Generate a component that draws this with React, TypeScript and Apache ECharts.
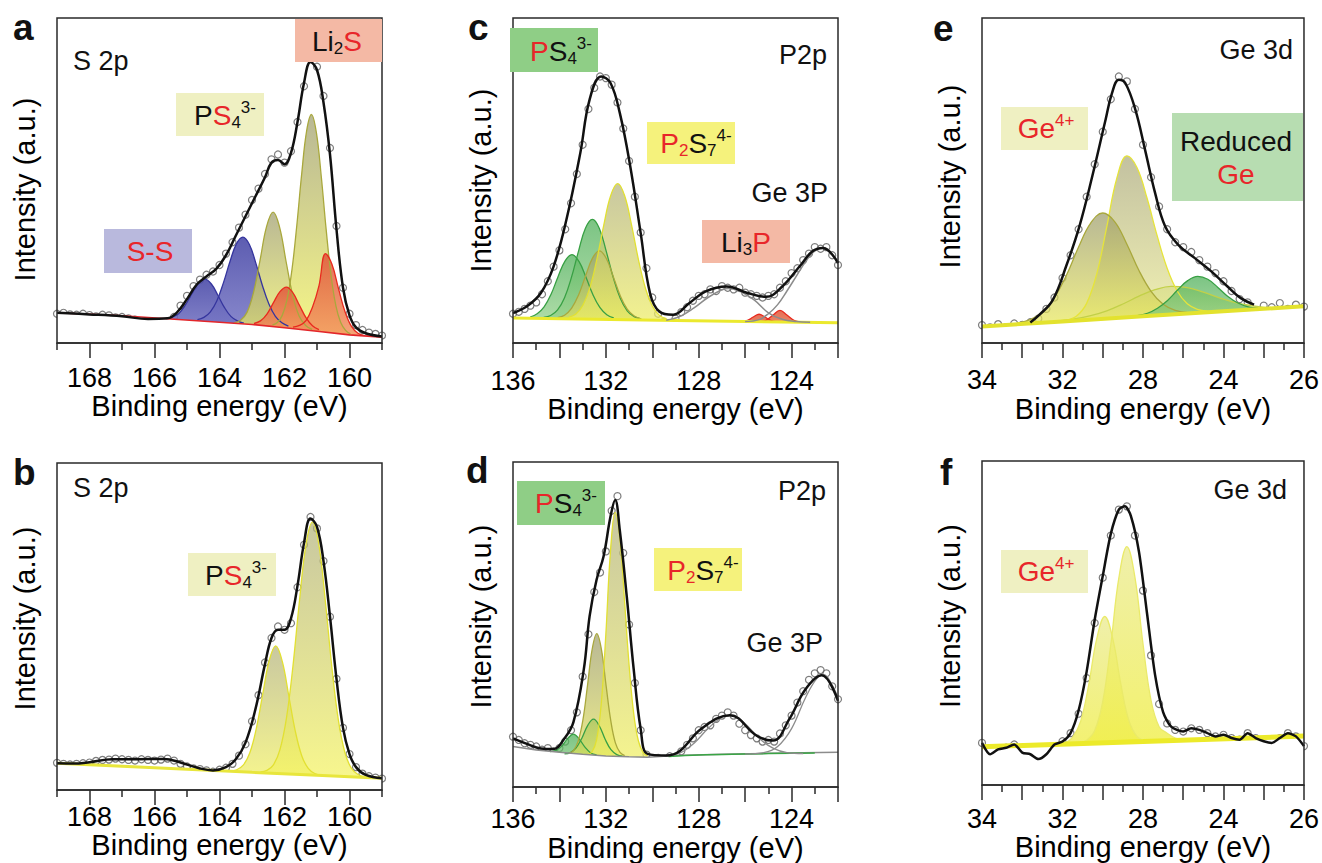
import React, { useEffect, useRef } from "react";
import * as echarts from "echarts";

type P = [number, number];

const FONT = "'Liberation Sans', Arial, Helvetica, sans-serif";

// ---------------- Panel a : S 2p ----------------
const aPoints: P[] = [
  [169.0, 9.0], [168.8, 9.3], [168.6, 8.8], [168.4, 8.7], [168.2, 9.0], [168.0, 8.6], [167.8, 8.2], [167.6, 8.7],
  [167.4, 8.5], [167.2, 7.9], [167.0, 8.0], [166.8, 7.6], [166.6, 7.2], [166.4, 5.6], [166.2, 4.6], [166.0, 5.0],
  [165.8, 5.8], [165.6, 6.6], [165.4, 8.0], [165.2, 11.5], [165.0, 14.5], [164.8, 17.5], [164.6, 19.5], [164.4, 21.0],
  [164.2, 22.0], [164.0, 24.0], [163.8, 27.5], [163.6, 31.0], [163.4, 35.5], [163.2, 39.5], [163.0, 44.0], [162.8, 47.5],
  [162.6, 52.0], [162.4, 56.5], [162.2, 58.0], [162.0, 55.5], [161.8, 59.0], [161.6, 68.0], [161.4, 79.0], [161.2, 88.0],
  [161.0, 85.0], [160.8, 76.0], [160.6, 60.0], [160.4, 36.0], [160.2, 17.0], [160.0, 9.0], [159.8, 5.5], [159.6, 4.0],
  [159.4, 3.2], [159.2, 2.8], [159.0, 2.3],
];
const aFit: P[] = [
  [169, 9.3], [168, 8.8], [167, 8.2], [166.2, 7.4], [165.6, 7.6], [165.3, 9.5], [165.0, 13.5], [164.7, 18.0],
  [164.4, 20.5], [164.1, 22.8], [163.8, 27.0], [163.5, 33.0], [163.2, 39.0], [162.9, 45.0], [162.6, 51.0], [162.4, 55.5],
  [162.2, 56.3], [162.0, 55.0], [161.8, 58.5], [161.6, 68.0], [161.4, 80.0], [161.2, 86.5], [161.0, 84.0], [160.8, 74.0],
  [160.6, 58.0], [160.4, 35.0], [160.2, 17.0], [160.0, 8.5], [159.8, 4.8], [159.5, 3.0], [159.0, 2.0],
];
const aBase: P[] = [[169, 9.3], [167, 8.4], [165.5, 7.4], [164, 6.4], [163, 5.7], [162, 4.7], [161, 3.6], [160, 2.5], [159, 1.8]];
const aPeakSS1: P[] = [
  [165.65, 7.5], [165.45, 8.0], [165.25, 9.1], [165.05, 11.7], [164.85, 15.15], [164.65, 18.35], [164.45, 19.65],
  [164.25, 18.15], [164.05, 14.7], [163.85, 10.95], [163.65, 8.2], [163.45, 6.8], [163.25, 6.1],
];
const aPeakSS2: P[] = [
  [164.68, 7.2], [164.48, 7.9], [164.28, 9.6], [164.08, 13.0], [163.88, 18.5], [163.68, 25.0], [163.48, 30.5], [163.28, 32.6],
  [163.08, 30.3], [162.88, 24.5], [162.68, 17.7], [162.48, 12.0], [162.28, 8.2], [162.08, 6.2], [161.88, 5.2],
];
const aPeakPS1: P[] = [
  [163.55, 6.2], [163.35, 7.0], [163.15, 9.5], [162.95, 15.7], [162.75, 25.6], [162.55, 35.9], [162.35, 40.3],
  [162.15, 35.6], [161.95, 25.0], [161.75, 14.8], [161.55, 8.3], [161.35, 5.4], [161.15, 4.2],
];
const aPeakLi1: P[] = [
  [162.94, 6.0], [162.74, 6.8], [162.54, 8.9], [162.34, 12.4], [162.14, 15.8], [161.94, 17.2], [161.74, 15.4],
  [161.54, 11.6], [161.34, 7.8], [161.14, 5.3], [160.94, 4.1],
];
const aPeakPS2: P[] = [
  [162.37, 5.6], [162.22, 6.3], [162.07, 8.5], [161.92, 13.4], [161.77, 22.6], [161.62, 36.3], [161.47, 52.1], [161.32, 65.2],
  [161.17, 70.3], [161.02, 64.8], [160.87, 51.4], [160.72, 35.1], [160.57, 21.0], [160.42, 11.5], [160.27, 6.3], [160.12, 3.9],
  [159.97, 2.8],
];
const aPeakLi2: P[] = [
  [161.74, 4.9], [161.54, 5.4], [161.34, 6.9], [161.14, 11.0], [160.94, 17.6], [160.74, 27.5], [160.54, 24.2],
  [160.34, 16.8], [160.14, 9.7], [159.94, 5.1], [159.74, 3.0], [159.54, 2.3],
];

// ---------------- Panel b : S 2p ----------------
const bPoints: P[] = [
  [169.0, 8.3], [168.8, 8.0], [168.6, 7.8], [168.4, 8.0], [168.2, 8.2], [168.0, 8.4], [167.8, 8.9], [167.6, 9.2],
  [167.4, 9.3], [167.2, 9.6], [167.0, 9.4], [166.8, 9.2], [166.6, 9.0], [166.4, 9.4], [166.2, 9.2], [166.0, 9.0],
  [165.8, 9.3], [165.6, 9.6], [165.4, 9.0], [165.2, 8.0], [165.0, 7.2], [164.8, 6.6], [164.6, 6.4], [164.4, 6.0],
  [164.2, 5.6], [164.0, 6.2], [163.8, 6.8], [163.6, 8.0], [163.4, 10.5], [163.2, 14.0], [163.0, 21.0], [162.8, 29.0],
  [162.6, 39.0], [162.4, 46.5], [162.2, 50.0], [162.0, 49.0], [161.8, 51.0], [161.6, 62.0], [161.4, 75.0], [161.2, 83.5],
  [161.0, 80.0], [160.8, 70.0], [160.6, 53.0], [160.4, 34.0], [160.2, 19.0], [160.0, 11.0], [159.8, 7.0], [159.6, 5.0],
  [159.4, 4.2], [159.2, 3.8], [159.0, 3.5],
];
const bFit: P[] = [
  [169, 8.2], [168.5, 8.1], [168, 8.5], [167.3, 9.4], [166.5, 9.4], [165.7, 9.5], [165.2, 8.4], [164.6, 6.6], [164.2, 6.0],
  [163.8, 7.0], [163.5, 9.4], [163.2, 14.5], [162.9, 24.5], [162.6, 38.5], [162.4, 46.5], [162.2, 49.0], [162.0, 49.0],
  [161.8, 52.5], [161.6, 62.5], [161.4, 75.5], [161.2, 83.0], [161.0, 80.5], [160.8, 70.0], [160.6, 53.0], [160.4, 34.0],
  [160.2, 19.0], [160.0, 11.0], [159.8, 7.0], [159.5, 4.6], [159.0, 3.6],
];
const bBase: P[] = [[169, 8.2], [166, 6.8], [163, 5.4], [161, 4.5], [159, 3.6]];
const bPeak1: P[] = [
  [163.67, 5.85], [163.47, 6.2], [163.27, 7.6], [163.07, 11.3], [162.87, 18.7], [162.67, 29.3], [162.47, 39.6], [162.27, 44.1],
  [162.07, 39.4], [161.87, 28.9], [161.67, 18.1], [161.47, 10.5], [161.27, 6.6], [161.07, 5.05], [160.87, 4.55],
];
const bPeak2: P[] = [
  [162.74, 5.5], [162.54, 6.0], [162.34, 7.7], [162.14, 12.35], [161.94, 22.0], [161.74, 37.9], [161.54, 57.8], [161.34, 75.0],
  [161.14, 81.9], [160.94, 74.8], [160.74, 57.4], [160.54, 37.3], [160.34, 21.2], [160.14, 11.4], [159.94, 6.6], [159.74, 4.75],
  [159.54, 4.05],
];

// ---------------- Panel c : P 2p ----------------
const cPoints: P[] = [
  [136.0, 9.0], [135.75, 9.6], [135.5, 10.5], [135.25, 11.5], [135.0, 12.5], [134.75, 15.0], [134.5, 19.0], [134.25, 23.5],
  [134.0, 28.5], [133.75, 35.0], [133.5, 43.0], [133.25, 52.0], [133.0, 61.0], [132.75, 72.0], [132.5, 78.5], [132.25, 82.0],
  [132.0, 81.5], [131.75, 79.5], [131.5, 74.0], [131.25, 66.0], [131.0, 56.0], [130.75, 45.0], [130.5, 34.0], [130.25, 23.0],
  [130.0, 14.0], [129.75, 9.0], [129.5, 6.5], [129.25, 5.8], [129.0, 7.5], [128.75, 9.5], [128.5, 11.0], [128.25, 13.0],
  [128.0, 14.5], [127.75, 15.0], [127.5, 16.5], [127.25, 16.0], [127.0, 17.5], [126.75, 17.0], [126.5, 16.5], [126.25, 17.0],
  [126.0, 15.5], [125.75, 15.0], [125.5, 14.5], [125.25, 14.0], [125.0, 14.5], [124.75, 15.0], [124.5, 17.0], [124.25, 19.0],
  [124.0, 21.5], [123.75, 23.0], [123.5, 25.5], [123.25, 27.5], [123.0, 29.5], [122.75, 29.0], [122.5, 29.5], [122.25, 27.0],
  [122.0, 24.0],
];
const cFit: P[] = [
  [136, 9.2], [135.4, 11.3], [134.8, 15.4], [134.25, 23.6], [133.7, 37.9], [133.1, 58.5], [132.7, 74.9], [132.2, 82.0],
  [131.8, 80.0], [131.4, 70.8], [130.95, 54.4], [130.5, 33.8], [130.1, 15.4], [129.7, 9.7], [129.1, 8.7], [128.4, 12.3],
  [127.7, 15.9], [126.8, 17.4], [125.9, 15.4], [125.1, 14.2], [124.4, 17.4], [123.65, 23.6], [123.1, 28.2], [122.65, 29.2],
  [122, 24.6],
];
const cBase: P[] = [[136, 7.7], [129, 6.95], [122, 6.2]];
const cPeakA: P[] = [
  [135.26, 8.0], [134.96, 9.0], [134.66, 11.15], [134.36, 15.0], [134.06, 20.4], [133.76, 25.2], [133.46, 27.2],
  [133.16, 25.1], [132.86, 20.3], [132.56, 14.9], [132.26, 10.95], [131.96, 8.7], [131.66, 7.7],
];
const cPeakB: P[] = [
  [134.68, 7.85], [134.38, 8.45], [134.08, 10.2], [133.78, 13.95], [133.48, 20.25], [133.18, 28.2], [132.88, 35.3],
  [132.58, 38.05], [132.28, 35.25], [131.98, 28.1], [131.68, 20.1], [131.38, 13.75], [131.08, 9.9], [130.78, 8.1], [130.48, 7.4],
];
const cPeakC: P[] = [
  [134.08, 7.8], [133.78, 8.55], [133.48, 10.65], [133.18, 14.7], [132.88, 20.5], [132.58, 26.05], [132.28, 28.35],
  [131.98, 26.0], [131.68, 20.4], [131.38, 14.55], [131.08, 10.4], [130.78, 8.3], [130.48, 7.45],
];
const cPeakD: P[] = [
  [133.59, 7.95], [133.29, 8.9], [132.99, 11.6], [132.69, 16.95], [132.39, 25.65], [132.09, 36.3], [131.79, 45.4],
  [131.49, 49.05], [131.19, 45.3], [130.89, 36.2], [130.59, 25.45], [130.29, 16.7], [129.99, 11.25], [129.69, 8.5], [129.39, 7.5],
];
const cPeakLi1: P[] = [[126.2, 6.6], [125.9, 7.0], [125.65, 8.0], [125.4, 8.85], [125.15, 8.0], [124.9, 7.0], [124.6, 6.5]];
const cPeakLi2: P[] = [[125.4, 6.55], [125.1, 7.0], [124.8, 8.6], [124.5, 10.05], [124.2, 8.6], [123.9, 7.0], [123.6, 6.45], [123.3, 6.35]];
const cGe1: P[] = [
  [129.4, 7.0], [128.8, 8.2], [128.2, 10.8], [127.6, 14.0], [127.0, 16.4], [126.7, 16.8], [126.2, 15.8], [125.6, 13.2],
  [125.0, 9.3], [124.4, 7.3], [123.8, 6.6], [123.2, 6.4],
];
const cGe2: P[] = [
  [126.0, 6.6], [125.4, 7.2], [125.0, 9.0], [124.6, 11.8], [124.2, 16.0], [123.8, 20.5], [123.4, 25.0], [123.0, 28.3],
  [122.6, 29.3], [122.3, 27.8], [122.0, 24.6],
];

// ---------------- Panel d : P 2p ----------------
const dPoints: P[] = [
  [136.0, 15.5], [135.75, 14.5], [135.5, 13.5], [135.25, 13.0], [135.0, 12.5], [134.75, 11.5], [134.5, 12.0], [134.25, 11.0],
  [134.0, 12.0], [133.75, 14.0], [133.5, 17.5], [133.25, 23.0], [133.0, 34.0], [132.75, 47.0], [132.5, 60.0], [132.25, 66.0],
  [132.0, 72.5], [131.75, 85.0], [131.5, 89.5], [131.25, 72.0], [131.0, 50.0], [130.75, 32.0], [130.5, 17.5], [130.25, 10.0],
  [130.0, 8.0], [129.75, 9.0], [129.5, 8.5], [129.25, 9.5], [129.0, 8.0], [128.75, 11.0], [128.5, 13.0], [128.25, 15.0],
  [128.0, 17.5], [127.75, 18.5], [127.5, 19.0], [127.25, 21.0], [127.0, 22.0], [126.75, 23.0], [126.5, 22.0], [126.25, 19.5],
  [126.0, 17.5], [125.75, 16.0], [125.5, 15.0], [125.25, 14.0], [125.0, 14.5], [124.75, 14.0], [124.5, 16.5], [124.25, 19.0],
  [124.0, 22.0], [123.75, 26.0], [123.5, 29.5], [123.25, 33.0], [123.0, 35.0], [122.75, 36.0], [122.5, 35.0], [122.25, 31.0],
  [122.0, 27.0],
];
const dFit: P[] = [
  [136, 15.0], [135.4, 13.3], [134.8, 11.9], [134.25, 11.7], [133.8, 14.8], [133.4, 19.9], [132.95, 36.2], [132.7, 52.6],
  [132.4, 63.8], [132.1, 70.9], [131.8, 83.2], [131.6, 88.3], [131.4, 79.0], [131.1, 58.7], [130.8, 36.2], [130.5, 17.9],
  [130.2, 10.2], [129.4, 9.7], [128.8, 11.2], [127.9, 17.9], [126.66, 22.1], [125.5, 15.8], [124.8, 14.3], [124.1, 20.9],
  [123.4, 30.1], [122.7, 34.4], [122, 26.5],
];
const dBase: P[] = [
  [136, 12.5], [135, 11.4], [134, 10.7], [133, 10.1], [132, 9.6], [131, 9.3], [130.2, 9.2], [129, 9.7], [127, 10.1],
  [125, 10.4], [122, 10.7],
];
const dPeak1: P[] = [[134.4, 10.9], [134.15, 11.3], [133.9, 12.6], [133.65, 14.9], [133.4, 16.3], [133.15, 14.8], [132.9, 12.3], [132.65, 10.5], [132.4, 9.9]];
const dPeak2: P[] = [
  [133.78, 10.2], [133.53, 10.6], [133.28, 12.1], [133.03, 15.1], [132.78, 19.0], [132.53, 20.9], [132.28, 18.8],
  [132.03, 14.7], [131.78, 11.5], [131.53, 10.0], [131.28, 9.5],
];
const dPeak3: P[] = [
  [133.59, 10.4], [133.39, 11.3], [133.19, 14.2], [132.99, 20.6], [132.79, 31.3], [132.59, 42.4], [132.39, 47.2],
  [132.19, 42.3], [131.99, 31.2], [131.79, 20.5], [131.59, 13.6], [131.39, 10.7], [131.19, 9.7],
];
const dPeak4: P[] = [
  [132.8, 10.05], [132.6, 10.8], [132.4, 14.5], [132.2, 25.5], [132.0, 47.1], [131.8, 72.65], [131.6, 84.5], [131.4, 76.75],
  [131.2, 57.8], [131.0, 37.65], [130.8, 22.6], [130.6, 14.25], [130.4, 10.7], [130.2, 9.6],
];
const dGreen: P[] = [[129.3, 9.4], [128, 9.9], [126, 10.2], [124, 10.4], [123, 10.5]];
const dGe1: P[] = [
  [129.5, 9.6], [128.8, 10.5], [128.2, 13.5], [127.6, 18.0], [127.0, 21.5], [126.6, 22.1], [126.0, 19.5], [125.4, 15.0],
  [124.8, 12.0], [124.2, 10.6], [123.5, 10.3],
];
const dGe2: P[] = [
  [126.0, 10.2], [125.2, 10.6], [124.6, 12.5], [124.0, 18.0], [123.4, 27.5], [122.9, 33.5], [122.6, 34.5], [122.3, 32.0], [122.0, 27.5],
];

// ---------------- Panel e : Ge 3d ----------------
const ePoints: P[] = [
  [34.0, 5.5], [33.8, 4.8], [33.6, 5.8], [33.4, 4.9], [33.2, 6.0], [33.0, 5.6], [32.8, 6.4], [32.6, 7.5], [32.4, 10.5],
  [32.2, 14.0], [32.0, 20.0], [31.8, 27.0], [31.6, 35.0], [31.4, 45.0], [31.2, 55.0], [31.0, 65.0], [30.8, 75.0],
  [30.6, 82.0], [30.4, 80.5], [30.2, 72.0], [30.0, 61.0], [29.8, 51.0], [29.6, 42.0], [29.4, 35.0], [29.2, 31.0],
  [29.0, 29.5], [28.8, 28.0], [28.6, 25.5], [28.4, 23.5], [28.2, 21.5], [28.0, 19.0], [27.8, 16.0], [27.6, 13.5],
  [27.4, 12.5], [27.2, 10.0], [27.0, 11.5], [26.8, 11.0], [26.6, 12.3], [26.4, 10.5], [26.2, 11.8], [26.0, 11.2],
];
const eFit: P[] = [
  [32.8, 6.3], [32.57, 8.7], [32.24, 13.3], [31.91, 23.6], [31.58, 35.9], [31.26, 51.3], [30.93, 68.7], [30.77, 76.9],
  [30.6, 81.0], [30.44, 80.0], [30.19, 71.8], [29.95, 59.5], [29.7, 46.2], [29.45, 35.9], [29.13, 30.3], [28.72, 26.2],
  [28.31, 22.1], [27.9, 17.4], [27.57, 13.8], [27.24, 11.8],
];
const eBase: P[] = [[34, 5.1], [32, 6.65], [30, 8.2], [28, 9.75], [26, 11.3]];
const eGe1: P[] = [
  [33.1, 6.2], [32.8, 7.2], [32.5, 9.55], [32.2, 14.0], [31.9, 20.9], [31.6, 29.55], [31.3, 36.9], [31.0, 40.0], [30.7, 37.3],
  [30.4, 30.4], [30.1, 22.3], [29.8, 15.9], [29.5, 11.9], [29.2, 10.05], [28.9, 9.45],
];
const eGe2: P[] = [
  [31.9, 7.0], [31.65, 8.3], [31.4, 12.2], [31.15, 21.2], [30.9, 35.7], [30.65, 50.7], [30.4, 57.6], [30.15, 54.0],
  [29.9, 44.6], [29.65, 33.1], [29.4, 23.0], [29.15, 16.0], [28.9, 12.05], [28.65, 10.35], [28.4, 9.8],
];
const eRed1: P[] = [
  [32.1, 6.8], [31.7, 7.4], [31.3, 8.4], [30.9, 9.9], [30.5, 12.0], [30.1, 14.4], [29.7, 16.4], [29.3, 17.45], [28.9, 17.05],
  [28.5, 15.65], [28.1, 13.9], [27.7, 12.4], [27.3, 11.5], [26.9, 10.8],
];
const eRed2: P[] = [
  [30.14, 8.4], [29.89, 9.15], [29.64, 10.7], [29.39, 13.1], [29.14, 16.3], [28.89, 19.2], [28.64, 20.5], [28.39, 19.6],
  [28.14, 17.1], [27.89, 14.3], [27.64, 12.3], [27.39, 11.15], [27.14, 10.8],
];

// ---------------- Panel f : Ge 3d ----------------
const fPoints: P[] = [
  [34.0, 13.0], [33.8, 9.5], [33.6, 11.0], [33.4, 11.5], [33.2, 12.5], [33.0, 10.0], [32.8, 9.5], [32.6, 8.0], [32.4, 9.5],
  [32.2, 11.0], [32.0, 13.5], [31.8, 16.0], [31.6, 22.0], [31.4, 33.0], [31.2, 50.0], [31.0, 64.0], [30.8, 77.0], [30.6, 85.0],
  [30.4, 86.0], [30.2, 77.0], [30.0, 60.0], [29.8, 40.0], [29.6, 25.0], [29.4, 19.0], [29.2, 17.0], [29.0, 16.5], [28.8, 17.5],
  [28.6, 17.0], [28.4, 16.0], [28.2, 15.0], [28.0, 15.5], [27.8, 14.5], [27.6, 14.0], [27.4, 16.0], [27.2, 14.5], [27.0, 13.5],
  [26.8, 13.0], [26.6, 14.5], [26.4, 16.0], [26.2, 15.0], [26.0, 12.0],
];
const fFit: P[] = [
  [34.0, 13.0], [33.8, 9.5], [33.6, 11.0], [33.4, 11.5], [33.2, 12.5], [33.0, 10.0], [32.8, 9.5], [32.6, 8.0], [32.4, 9.5],
  [32.2, 12.5], [32.0, 13.4], [31.8, 16.0], [31.6, 23.0], [31.4, 35.0], [31.2, 51.0], [31.0, 64.5], [30.8, 77.5], [30.6, 85.0],
  [30.45, 86.0], [30.3, 83.0], [30.1, 72.0], [29.9, 53.0], [29.7, 34.0], [29.5, 22.5], [29.3, 18.0], [29.0, 16.5], [28.8, 17.5],
  [28.6, 17.0], [28.4, 16.0], [28.2, 15.0], [28.0, 15.5], [27.8, 14.5], [27.6, 14.0], [27.4, 16.0], [27.2, 14.5], [27.0, 13.5],
  [26.8, 13.0], [26.6, 14.5], [26.4, 16.0], [26.2, 15.0], [26.0, 12.0],
];
const fBase: P[] = [[34, 11.8], [30, 13.4], [26, 15.1]];
const fGe1: P[] = [
  [31.95, 12.9], [31.75, 14.7], [31.55, 19.6], [31.35, 30.8], [31.15, 45.1], [30.95, 52.0], [30.75, 45.1], [30.55, 31.1],
  [30.35, 19.9], [30.15, 15.0], [29.95, 13.7],
];
const fGe2: P[] = [
  [31.6, 12.9], [31.4, 13.8], [31.2, 16.8], [31.0, 25.7], [30.8, 43.3], [30.6, 63.9], [30.4, 73.6], [30.2, 64.1], [30.0, 43.6],
  [29.8, 26.1], [29.6, 18.0], [29.4, 16.0], [29.2, 14.5], [29.0, 13.9],
];

// ---------------- tick labels ----------------
const sLabelValues = [168, 166, 164, 162, 160];
const pLabelValues = [136, 132, 128, 124];
const gTickValues = [34, 32, 30, 28, 26];
const gTickLabels = ["34", "32", "28", "24", "26"];

// ---------------- styling ----------------
type Sty = { edge: string; top: string; bottom: string; opacity: number };
const BLUE: Sty = { edge: "#35359e", top: "#4646a6", bottom: "#8080ca", opacity: 0.88 };
const OLIVE: Sty = { edge: "#a9a83c", top: "#9d9c6c", bottom: "#f5f558", opacity: 0.72 };
const YEL: Sty = { edge: "#e2e032", top: "#b3b27c", bottom: "#f7f660", opacity: 0.72 };
const YEL2: Sty = { edge: "#e6e43a", top: "#aeac80", bottom: "#f4f49c", opacity: 0.75 };
const YELL: Sty = { edge: "#eaea6a", top: "#ecec98", bottom: "#f1ef3c", opacity: 0.82 };
const YGRN: Sty = { edge: "#c2d048", top: "#b4cf52", bottom: "#dfe64e", opacity: 0.6 };
const RED: Sty = { edge: "#e82a1e", top: "#e0553a", bottom: "#f59a62", opacity: 0.85 };
const GREEN: Sty = { edge: "#38a044", top: "#49ad54", bottom: "#a6da96", opacity: 0.72 };

type Panel = {
  grid: { left: number; top: number; width: number; height: number };
  kind: "S" | "P" | "G";
  labelMargin: number;
  nameGap: number;
  yPad: number[];
  peaks: { data: P[]; sty: Sty }[];
  base: P[];
  baseColor: string;
  baseWidth: number;
  extra: { data: P[]; color: string; width: number }[];
  fit: P[];
  fitSmooth: number;
  points: P[];
};

const panels: Panel[] = [
  {
    grid: { left: 57, top: 18, width: 325, height: 325 }, kind: "S", labelMargin: 21, nameGap: 48, yPad: [0, 18, 0, 0],
    peaks: [
      { data: aPeakSS1, sty: BLUE }, { data: aPeakSS2, sty: BLUE }, { data: aPeakPS1, sty: OLIVE },
      { data: aPeakPS2, sty: OLIVE }, { data: aPeakLi1, sty: RED }, { data: aPeakLi2, sty: RED },
    ],
    base: aBase, baseColor: "#e3262a", baseWidth: 1.6, extra: [], fit: aFit, fitSmooth: 0.4, points: aPoints,
  },
  {
    grid: { left: 57, top: 463, width: 325, height: 327 }, kind: "S", labelMargin: 13, nameGap: 38, yPad: [0, 0, 0, 16],
    peaks: [{ data: bPeak1, sty: YEL }, { data: bPeak2, sty: YEL }],
    base: bBase, baseColor: "#e8e63c", baseWidth: 3, extra: [], fit: bFit, fitSmooth: 0.4, points: bPoints,
  },
  {
    grid: { left: 513, top: 18, width: 325, height: 325 }, kind: "P", labelMargin: 24, nameGap: 50, yPad: [0, 0, 0, 0],
    peaks: [
      { data: cPeakA, sty: GREEN }, { data: cPeakB, sty: GREEN }, { data: cPeakC, sty: OLIVE }, { data: cPeakD, sty: YEL },
      { data: cPeakLi1, sty: RED }, { data: cPeakLi2, sty: RED },
    ],
    base: cBase, baseColor: "#ebe92e", baseWidth: 3,
    extra: [{ data: cGe1, color: "#8c8c8c", width: 1.5 }, { data: cGe2, color: "#8c8c8c", width: 1.5 }],
    fit: cFit, fitSmooth: 0.4, points: cPoints,
  },
  {
    grid: { left: 513, top: 462, width: 325, height: 326 }, kind: "P", labelMargin: 18, nameGap: 40, yPad: [0, 0, 0, 16],
    peaks: [{ data: dPeak1, sty: GREEN }, { data: dPeak2, sty: GREEN }, { data: dPeak3, sty: OLIVE }, { data: dPeak4, sty: YEL }],
    base: dBase, baseColor: "#8c8c8c", baseWidth: 1.5,
    extra: [
      { data: dGreen, color: "#3aa545", width: 1.5 },
      { data: dGe1, color: "#8c8c8c", width: 1.3 }, { data: dGe2, color: "#8c8c8c", width: 1.3 },
    ],
    fit: dFit, fitSmooth: 0.4, points: dPoints,
  },
  {
    grid: { left: 982, top: 18, width: 325, height: 325 }, kind: "G", labelMargin: 23, nameGap: 51, yPad: [0, 0, 0, 8],
    peaks: [{ data: eRed1, sty: YGRN }, { data: eGe2, sty: YEL2 }, { data: eGe1, sty: OLIVE }, { data: eRed2, sty: GREEN }],
    base: eBase, baseColor: "#e3e22e", baseWidth: 4, extra: [], fit: eFit, fitSmooth: 0.4, points: ePoints,
  },
  {
    grid: { left: 982, top: 461, width: 325, height: 324 }, kind: "G", labelMargin: 20, nameGap: 45, yPad: [0, 0, 0, 14],
    peaks: [{ data: fGe1, sty: YELL }, { data: fGe2, sty: YELL }],
    base: fBase, baseColor: "#ecea2a", baseWidth: 5, extra: [], fit: fFit, fitSmooth: 0.25, points: fPoints,
  },
];

const AXC = "#2a2a2a";

function xAxisFor(p: Panel, i: number) {
  const common = {
    gridIndex: i, type: "value", inverse: true, z: 8,
    axisLine: { show: true, onZero: false, lineStyle: { color: AXC, width: 1.5 } },
    splitLine: { show: false }, minorSplitLine: { show: false },
    name: "Binding energy (eV)", nameLocation: "middle", nameGap: p.nameGap,
    nameTextStyle: { fontSize: 29, color: "#000", fontFamily: FONT },
  };
  const lbl = { margin: p.labelMargin, fontSize: 27, color: "#000", fontFamily: FONT };
  if (p.kind === "S") {
    return {
      ...common, min: 159, max: 169, interval: 2,
      axisTick: { show: true, length: 7, lineStyle: { color: AXC, width: 1.5 } },
      minorTick: { show: true, splitNumber: 2, length: 15, lineStyle: { color: AXC, width: 1.5 } },
      axisLabel: { ...lbl, customValues: sLabelValues, formatter: (v: number) => (sLabelValues.includes(v) ? String(v) : "") },
    };
  }
  if (p.kind === "P") {
    return {
      ...common, min: 122, max: 136, interval: 2,
      axisTick: { show: true, length: 15, lineStyle: { color: AXC, width: 1.5 } },
      minorTick: { show: true, splitNumber: 2, length: 7, lineStyle: { color: AXC, width: 1.5 } },
      axisLabel: { ...lbl, customValues: pLabelValues, formatter: (v: number) => (pLabelValues.includes(v) ? String(v) : "") },
    };
  }
  return {
    ...common, min: 26, max: 34, interval: 1,
    axisTick: { show: true, length: 15, lineStyle: { color: AXC, width: 1.5 } },
    minorTick: { show: true, splitNumber: 2, length: 7, lineStyle: { color: AXC, width: 1.5 } },
    axisLabel: {
      ...lbl, customValues: gTickValues,
      formatter: (v: number) => { const k = gTickValues.indexOf(v); return k >= 0 ? gTickLabels[k] : ""; },
    },
  };
}

function seriesFor(p: Panel, i: number) {
  const out: any[] = [];
  const ax = { xAxisIndex: i, yAxisIndex: i, silent: true, emphasis: { disabled: true } };
  p.peaks.forEach((pk) => {
    out.push({
      ...ax, type: "line", data: pk.data, smooth: 0.4, symbol: "none",
      lineStyle: { color: pk.sty.edge, width: 1.3 },
      areaStyle: {
        color: new echarts.graphic.LinearGradient(0, 0, 0, 1, [
          { offset: 0, color: pk.sty.top }, { offset: 1, color: pk.sty.bottom },
        ]),
        opacity: pk.sty.opacity,
      },
    });
  });
  // background line, masking everything beneath it
  out.push({
    ...ax, type: "line", data: p.base, smooth: false, symbol: "none",
    lineStyle: { color: p.baseColor, width: p.baseWidth },
    areaStyle: { color: "#ffffff", opacity: 1 },
  });
  p.extra.forEach((l) => {
    out.push({ ...ax, type: "line", data: l.data, smooth: 0.4, symbol: "none", lineStyle: { color: l.color, width: l.width } });
  });
  out.push({ ...ax, type: "line", data: p.fit, smooth: p.fitSmooth, symbol: "none", lineStyle: { color: "#111", width: 2.5 } });
  out.push({
    ...ax, type: "scatter", data: p.points, symbol: "circle", symbolSize: 7,
    itemStyle: { color: "rgba(255,255,255,0)", borderColor: "#5c5c5c", borderWidth: 1.2 },
  });
  return out;
}

const RICH: any = {
  k: { fontSize: 28, fill: "#111", fontFamily: FONT, lineHeight: 32 },
  r: { fontSize: 28, fill: "#e8262a", fontFamily: FONT, lineHeight: 32 },
  ks: { fontSize: 17, fill: "#111", fontFamily: FONT, lineHeight: 22, verticalAlign: "bottom" },
  rs: { fontSize: 17, fill: "#e8262a", fontFamily: FONT, lineHeight: 22, verticalAlign: "bottom" },
  kp: { fontSize: 17, fill: "#111", fontFamily: FONT, lineHeight: 17, verticalAlign: "top" },
  rp: { fontSize: 17, fill: "#e8262a", fontFamily: FONT, lineHeight: 17, verticalAlign: "top" },
  kL: { fontSize: 28, fill: "#111", fontFamily: FONT, lineHeight: 33 },
  rL: { fontSize: 28, fill: "#e8262a", fontFamily: FONT, lineHeight: 33 },
};

const rect = (x: number, y: number, w: number, h: number, fill: string) => ({
  type: "rect", z: 90, silent: true, shape: { x, y, width: w, height: h }, style: { fill },
});
const rtext = (x: number, y: number, text: string) => ({
  type: "text", x, y, z: 100, silent: true,
  style: { text, rich: RICH, textAlign: "center", verticalAlign: "middle", fontFamily: FONT, fontSize: 28, fill: "#111" },
});
const ptext = (x: number, y: number, text: string, align: string, fontSize = 27, bold = false) => ({
  type: "text", x, y, z: 100, silent: true,
  style: { text, fill: "#111", fontSize, fontFamily: FONT, fontWeight: bold ? "bold" : "normal", textAlign: align, verticalAlign: "middle" },
});

const SALMON = "#f4b9a5";
const PALE = "#eff0c2";
const LAV = "#b9b9dd";
const GBOX = "#8fce86";
const YBOX = "#f5f27c";
const LGBOX = "#b7ddb1";

const graphics = [
  // panel letters
  ptext(13, 27, "a", "left", 37, true), ptext(13, 472, "b", "left", 37, true),
  ptext(468, 27, "c", "left", 37, true), ptext(466, 470, "d", "left", 37, true),
  ptext(933, 28, "e", "left", 37, true), ptext(940, 472, "f", "left", 37, true),
  // a
  ptext(73, 61, "S 2p", "left"),
  rect(295, 19, 87, 43, SALMON), rtext(337, 41, "{k|Li}{ks|2}{r|S}"),
  rect(176, 93, 88, 43, PALE), rtext(225, 115, "{k|P}{r|S}{ks|4}{kp|3-}"),
  rect(104, 229, 88, 44, LAV), rtext(150, 251, "{r|S-S}"),
  // b
  ptext(73, 488, "S 2p", "left"),
  rect(188, 553, 88, 43, PALE), rtext(236, 575, "{k|P}{r|S}{ks|4}{kp|3-}"),
  // c
  ptext(827, 55, "P2p", "right"), ptext(828, 193, "Ge 3P", "right"),
  rect(510, 28, 88, 44, GBOX), rtext(561, 51, "{r|P}{k|S}{ks|4}{kp|3-}"),
  rect(647, 122, 88, 42, YBOX), rtext(696, 143, "{r|P}{rs|2}{k|S}{ks|7}{kp|4-}"),
  rect(702, 220, 88, 43, SALMON), rtext(746, 242, "{k|Li}{ks|3}{r|P}"),
  // d
  ptext(826, 491, "P2p", "right"), ptext(823, 643, "Ge 3P", "right"),
  rect(517, 481, 88, 44, GBOX), rtext(566, 503, "{r|P}{k|S}{ks|4}{kp|3-}"),
  rect(654, 548, 88, 43, YBOX), rtext(703, 570, "{r|P}{rs|2}{k|S}{ks|7}{kp|4-}"),
  // e
  ptext(1293, 50, "Ge 3d", "right"),
  rect(1001, 107, 87, 43, PALE), rtext(1046, 128, "{r|Ge}{rp|4+}"),
  rect(1172, 113, 131, 88, LGBOX), rtext(1236, 158, "{kL|Reduced}\n{rL|Ge}"),
  // f
  ptext(1287, 490, "Ge 3d", "right"),
  rect(1001, 550, 87, 43, PALE), rtext(1046, 571, "{r|Ge}{rp|4+}"),
];

function buildOption() {
  return {
    animation: false,
    backgroundColor: "#ffffff",
    textStyle: { fontFamily: FONT },
    grid: panels.map((p) => ({
      ...p.grid, show: true, z: 8, borderColor: AXC, borderWidth: 1.5, backgroundColor: "transparent", containLabel: false,
    })),
    xAxis: panels.map((p, i) => xAxisFor(p, i)),
    yAxis: panels.map((p, i) => ({
      gridIndex: i, type: "value", min: 0, max: 100,
      axisLine: { show: false }, axisTick: { show: false }, axisLabel: { show: false }, splitLine: { show: false },
      name: "Intensity (a.u.)", nameLocation: "middle", nameGap: 18,
      nameTextStyle: { fontSize: 29, color: "#000", fontFamily: FONT, padding: p.yPad },
    })),
    series: panels.flatMap((p, i) => seriesFor(p, i)),
    graphic: graphics,
  };
}

export default function App() {
  const ref = useRef<HTMLDivElement>(null);
  useEffect(() => {
    if (!ref.current) return;
    const chart = echarts.init(ref.current, null, { renderer: "svg" });
    chart.setOption(buildOption() as any);
    return () => chart.dispose();
  }, []);
  return (
    <div
      ref={ref}
      style={{ position: "fixed", left: 0, top: 0, width: 1322, height: 863, background: "#fff" }}
    />
  );
}
